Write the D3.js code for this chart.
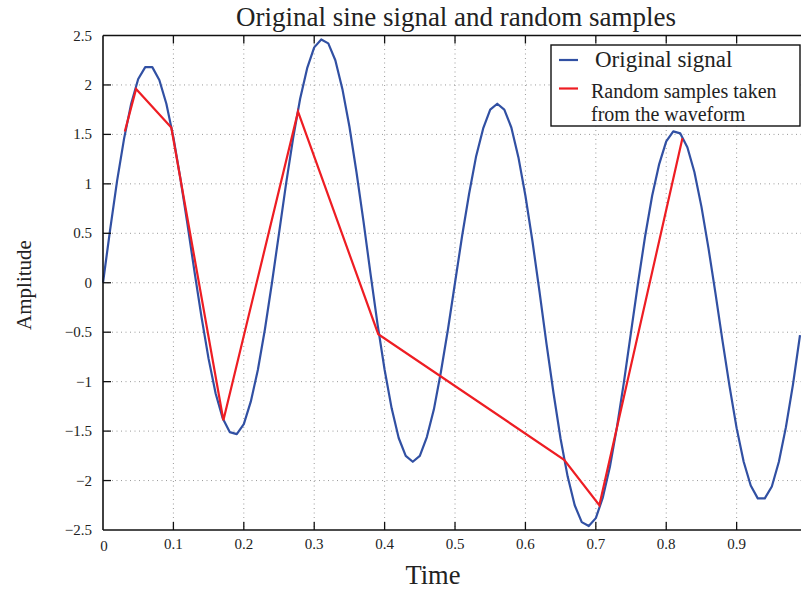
<!DOCTYPE html>
<html>
<head>
<meta charset="utf-8">
<script src="https://cdn.jsdelivr.net/npm/d3@7"></script>
<style>
  body { margin: 0; background: #fff; }
  svg { display: block; font-family: "Liberation Serif", "DejaVu Serif", serif; }
</style>
</head>
<body>
<svg id="chart" width="801" height="589"></svg>
<script>
// original signal, sampled every 0.01 s
const signalTimes = d3.range(100).map((i) => i / 100);
const signalValues = [
  0, 0.53, 1.03, 1.46, 1.81, 2.06, 2.18, 2.18, 2.05, 1.81,
  1.47, 1.05, 0.59, 0.11, -0.35, -0.77, -1.12, -1.37, -1.51, -1.53,
  -1.43, -1.2, -0.88, -0.47, 0, 0.5, 1, 1.46, 1.86, 2.17,
  2.38, 2.46, 2.42, 2.25, 1.96, 1.58, 1.12, 0.62, 0.09, -0.42,
  -0.88, -1.27, -1.57, -1.75, -1.81, -1.75, -1.56, -1.28, -0.9, -0.47,
  0, 0.47, 0.9, 1.28, 1.56, 1.75, 1.81, 1.75, 1.57, 1.27,
  0.88, 0.42, -0.09, -0.62, -1.12, -1.58, -1.96, -2.25, -2.42, -2.46,
  -2.38, -2.17, -1.86, -1.46, -1, -0.5, 0, 0.47, 0.88, 1.2,
  1.43, 1.53, 1.51, 1.37, 1.12, 0.77, 0.35, -0.11, -0.59, -1.05,
  -1.47, -1.81, -2.05, -2.18, -2.18, -2.06, -1.81, -1.46, -1.03, -0.53,
];

// random samples
const sampleTimes = [0.031, 0.047, 0.097, 0.171, 0.277, 0.391, 0.655, 0.705, 0.823];
const sampleValues = [1.53, 1.96, 1.57, -1.39, 1.73, -0.52, -1.79, -2.25, 1.46];

const xTicks = [0, 0.1, 0.2, 0.3, 0.4, 0.5, 0.6, 0.7, 0.8, 0.9];
const yTicks = [-2.5, -2, -1.5, -1, -0.5, 0, 0.5, 1, 1.5, 2, 2.5];

const blue = '#3150a3';
const red = '#ee1d23';

const svg = d3.select('#chart');
const plotLeft = 103, plotRight = 800, plotTop = 35.5, plotBottom = 530;

const x = d3.scaleLinear().domain([0, 0.99]).range([plotLeft, plotRight]);
const y = d3.scaleLinear().domain([-2.5, 2.5]).range([plotBottom, plotTop]);

const fmt = (v) => (v < 0 ? '\u2212' : '') + String(Math.abs(v));

// grid
const grid = svg.append('g')
  .attr('stroke', '#9a9a9a')
  .attr('stroke-width', 1)
  .attr('stroke-dasharray', '1,3.5');
grid.selectAll('line.gx')
  .data(xTicks.slice(1))
  .join('line')
  .attr('class', 'gx')
  .attr('x1', (d) => x(d)).attr('x2', (d) => x(d))
  .attr('y1', plotTop).attr('y2', plotBottom);
grid.selectAll('line.gy')
  .data(yTicks.slice(1, -1))
  .join('line')
  .attr('class', 'gy')
  .attr('x1', plotLeft).attr('x2', plotRight + 5)
  .attr('y1', (d) => y(d)).attr('y2', (d) => y(d));

// lines
const line = d3.line().x((d) => x(d[0])).y((d) => y(d[1]));

svg.append('path')
  .datum(signalTimes.map((t, i) => [t, signalValues[i]]))
  .attr('fill', 'none')
  .attr('stroke', blue)
  .attr('stroke-width', 2.2)
  .attr('stroke-linejoin', 'round')
  .attr('d', line);

svg.append('path')
  .datum(sampleTimes.map((t, i) => [t, sampleValues[i]]))
  .attr('fill', 'none')
  .attr('stroke', red)
  .attr('stroke-width', 2.2)
  .attr('d', line);

// frame
const frame = svg.append('g').attr('stroke', '#111').attr('stroke-width', 1.6);
frame.append('line').attr('x1', plotLeft).attr('x2', 801).attr('y1', plotTop).attr('y2', plotTop);
frame.append('line').attr('x1', plotLeft).attr('x2', 801).attr('y1', plotBottom).attr('y2', plotBottom);
frame.append('line').attr('x1', plotLeft).attr('x2', plotLeft).attr('y1', plotTop).attr('y2', plotBottom);

// inward ticks
const ticks = svg.append('g').attr('stroke', '#111').attr('stroke-width', 1.3);
xTicks.slice(1).forEach((t) => {
  ticks.append('line').attr('x1', x(t)).attr('x2', x(t)).attr('y1', plotBottom).attr('y2', plotBottom - 8);
  ticks.append('line').attr('x1', x(t)).attr('x2', x(t)).attr('y1', plotTop).attr('y2', plotTop + 8);
});
yTicks.slice(1, -1).forEach((v) => {
  ticks.append('line').attr('x1', plotLeft).attr('x2', plotLeft + 8).attr('y1', y(v)).attr('y2', y(v));
});

// tick labels
svg.append('g')
  .selectAll('text')
  .data(xTicks)
  .join('text')
  .attr('x', (d) => x(d) + (d === 0 ? 1 : 0))
  .attr('y', (d) => (d === 0 ? 551 : 549))
  .attr('text-anchor', 'middle')
  .attr('font-size', 15)
  .attr('fill', '#222')
  .text((d) => fmt(d));

svg.append('g')
  .selectAll('text')
  .data(yTicks)
  .join('text')
  .attr('x', 92)
  .attr('y', (d) => y(d) + 5)
  .attr('text-anchor', 'end')
  .attr('font-size', 15)
  .attr('fill', '#222')
  .text((d) => fmt(d));

// title and axis labels
svg.append('text')
  .attr('x', 456).attr('y', 26)
  .attr('text-anchor', 'middle')
  .attr('font-size', 27)
  .attr('fill', '#222')
  .text('Original sine signal and random samples');

svg.append('text')
  .attr('x', 433).attr('y', 584)
  .attr('text-anchor', 'middle')
  .attr('font-size', 26.5)
  .attr('fill', '#222')
  .text('Time');

svg.append('text')
  .attr('transform', 'translate(31,285) rotate(-90)')
  .attr('text-anchor', 'middle')
  .attr('font-size', 21)
  .attr('fill', '#222')
  .text('Amplitude');

// legend
const legend = svg.append('g');
legend.append('rect')
  .attr('x', 551).attr('y', 45)
  .attr('width', 249).attr('height', 81)
  .attr('fill', '#fff')
  .attr('stroke', '#111')
  .attr('stroke-width', 1.4);
legend.append('line')
  .attr('x1', 559).attr('x2', 578).attr('y1', 60).attr('y2', 60)
  .attr('stroke', blue).attr('stroke-width', 2.2);
legend.append('text')
  .attr('x', 595).attr('y', 66.5)
  .attr('font-size', 23)
  .attr('fill', '#222')
  .text('Original signal');
legend.append('line')
  .attr('x1', 559).attr('x2', 578).attr('y1', 88.5).attr('y2', 88.5)
  .attr('stroke', red).attr('stroke-width', 2.2);
legend.append('text')
  .attr('x', 591).attr('y', 98)
  .attr('font-size', 20)
  .attr('fill', '#222')
  .text('Random samples taken');
legend.append('text')
  .attr('x', 591).attr('y', 121)
  .attr('font-size', 20)
  .attr('fill', '#222')
  .text('from the waveform');
</script>
</body>
</html>
